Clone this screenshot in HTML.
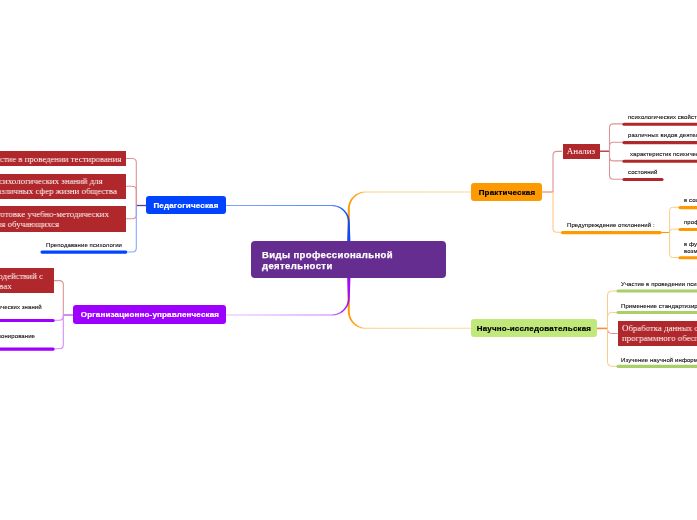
<!DOCTYPE html>
<html><head><meta charset="utf-8"><style>
html,body{margin:0;padding:0;background:#fff;width:697px;height:520px;overflow:hidden;position:relative}
svg{position:absolute;left:0;top:0}
div{-webkit-font-smoothing:antialiased;will-change:transform}
</style></head><body>
<svg width="697" height="520" viewBox="0 0 697 520">
<defs>
<linearGradient id="gb" x1="226" y1="0" x2="350.5" y2="0" gradientUnits="userSpaceOnUse"><stop offset="0" stop-color="#7ea4ff"/><stop offset="0.84" stop-color="#5c8cff"/><stop offset="1" stop-color="#0044ff"/></linearGradient>
<linearGradient id="gp" x1="226" y1="0" x2="350.5" y2="0" gradientUnits="userSpaceOnUse"><stop offset="0" stop-color="#e6c0ff"/><stop offset="0.84" stop-color="#c978ff"/><stop offset="1" stop-color="#9d00ff"/></linearGradient>
<linearGradient id="go" x1="347" y1="0" x2="471" y2="0" gradientUnits="userSpaceOnUse"><stop offset="0" stop-color="#ff9900"/><stop offset="0.08" stop-color="#ffa320"/><stop offset="0.15" stop-color="#ffcc88"/><stop offset="1" stop-color="#ffd6a0"/></linearGradient>
</defs>

<path d="M471.00,191.45 L365.80,191.45 L364.08,191.51 L362.37,191.73 L360.68,192.12 L359.04,192.68 L357.46,193.40 L355.96,194.27 L354.54,195.28 L353.23,196.43 L352.04,197.71 L350.97,199.09 L350.05,200.58 L349.27,202.15 L348.66,203.80 L348.20,205.50 L347.91,207.24 L347.80,208.99 L347.75,214.42 L347.70,219.83 L347.65,225.25 L347.60,230.67 L347.55,236.08 L347.50,241.50 L350.10,241.50 L350.05,236.08 L350.00,230.67 L349.95,225.25 L349.90,219.83 L349.85,214.42 L349.80,209.01 L349.85,207.43 L350.05,205.87 L350.41,204.33 L350.91,202.83 L351.57,201.39 L352.36,200.02 L353.28,198.72 L354.33,197.53 L355.49,196.44 L356.75,195.46 L358.11,194.62 L359.55,193.91 L361.05,193.34 L362.60,192.92 L364.19,192.66 L365.80,192.55 L471.00,192.55Z" fill="url(#go)"/>
<path d="M471.00,327.75 L365.80,327.75 L364.19,327.64 L362.60,327.38 L361.05,326.96 L359.55,326.39 L358.11,325.68 L356.75,324.84 L355.49,323.86 L354.33,322.77 L353.28,321.58 L352.36,320.28 L351.57,318.91 L350.91,317.47 L350.41,315.97 L350.05,314.43 L349.85,312.87 L349.80,311.29 L349.85,305.75 L349.90,300.20 L349.95,294.65 L350.00,289.10 L350.05,283.55 L350.10,278.00 L347.50,278.00 L347.55,283.55 L347.60,289.10 L347.65,294.65 L347.70,300.20 L347.75,305.75 L347.80,311.31 L347.91,313.06 L348.20,314.80 L348.66,316.50 L349.27,318.15 L350.05,319.72 L350.97,321.21 L352.04,322.59 L353.23,323.87 L354.54,325.02 L355.96,326.03 L357.46,326.90 L359.04,327.62 L360.68,328.18 L362.37,328.57 L364.08,328.79 L365.80,328.85 L471.00,328.85Z" fill="url(#go)"/>
<path d="M226.00,206.05 L331.80,206.05 L333.41,206.15 L335.00,206.41 L336.56,206.82 L338.06,207.38 L339.50,208.09 L340.87,208.93 L342.14,209.90 L343.31,210.99 L344.36,212.19 L345.30,213.48 L346.10,214.86 L346.76,216.31 L347.27,217.81 L347.63,219.35 L347.84,220.92 L347.90,222.52 L347.78,225.67 L347.67,228.83 L347.55,232.00 L347.43,235.17 L347.32,238.33 L347.20,241.50 L350.40,241.50 L350.28,238.33 L350.17,235.17 L350.05,232.00 L349.93,228.83 L349.82,225.67 L349.70,222.48 L349.59,220.75 L349.31,219.02 L348.87,217.32 L348.26,215.68 L347.49,214.11 L346.57,212.63 L345.52,211.24 L344.33,209.97 L343.03,208.82 L341.62,207.80 L340.12,206.93 L338.55,206.21 L336.91,205.64 L335.23,205.24 L333.52,205.01 L331.80,204.95 L226.00,204.95Z" fill="url(#gb)"/>
<path d="M226.00,315.55 L331.80,315.55 L333.52,315.49 L335.23,315.26 L336.91,314.86 L338.55,314.29 L340.12,313.57 L341.62,312.70 L343.03,311.68 L344.33,310.53 L345.52,309.26 L346.57,307.87 L347.49,306.39 L348.26,304.82 L348.87,303.18 L349.31,301.48 L349.59,299.75 L349.70,298.01 L349.82,294.67 L349.93,291.33 L350.05,288.00 L350.17,284.67 L350.28,281.33 L350.40,278.00 L347.20,278.00 L347.32,281.33 L347.43,284.67 L347.55,288.00 L347.67,291.33 L347.78,294.67 L347.90,297.99 L347.84,299.58 L347.63,301.15 L347.27,302.69 L346.76,304.19 L346.10,305.64 L345.30,307.02 L344.36,308.31 L343.31,309.51 L342.14,310.60 L340.87,311.57 L339.50,312.41 L338.06,313.12 L336.56,313.68 L335.00,314.09 L333.41,314.35 L331.80,314.45 L226.00,314.45Z" fill="url(#gp)"/>
<path d="M136,205.5 H146" fill="none" stroke="#5a3a9a" stroke-width="1.3"/>
<path d="M126,158.5 H132.3 Q136.3,158.5 136.3,162.5 V205.5" fill="none" stroke="#dc9396" stroke-width="1.1"/>
<path d="M126,186.3 H132.3 Q136.3,186.3 136.3,190.3 V205.5" fill="none" stroke="#dc9396" stroke-width="1.1"/>
<path d="M126,218.8 H132.3 Q136.3,218.8 136.3,214.8 V205.5" fill="none" stroke="#dc9396" stroke-width="1.1"/>
<path d="M127.5,252 H132.3 Q136.3,252 136.3,248 V205.5" fill="none" stroke="#86a8ff" stroke-width="1.1"/>
<line x1="42" y1="252.10000000000002" x2="125.8" y2="252.10000000000002" stroke="#0044ff" stroke-width="3.1" stroke-linecap="round"/>
<path d="M63.5,315 H73" fill="none" stroke="#b560e8" stroke-width="1.4"/>
<path d="M53.7,280.6 H59.3 Q63.3,280.6 63.3,284.6 V315" fill="none" stroke="#dc9396" stroke-width="1.1"/>
<path d="M55,320.2 H59.3 Q63.3,320.2 63.3,316.2 V315" fill="none" stroke="#d28cff" stroke-width="1.1"/>
<path d="M55,348.8 H59.3 Q63.3,348.8 63.3,344.8 V315" fill="none" stroke="#d28cff" stroke-width="1.1"/>
<line x1="-5" y1="320.5" x2="53.2" y2="320.5" stroke="#9d00ff" stroke-width="3.1" stroke-linecap="round"/>
<line x1="-5" y1="349.1" x2="53.2" y2="349.1" stroke="#9d00ff" stroke-width="3.1" stroke-linecap="round"/>
<path d="M542,192 H553" fill="none" stroke="#f0a070" stroke-width="1.4"/>
<path d="M562,151.4 H557 Q553,151.4 553,155.4 V192" fill="none" stroke="#dc9396" stroke-width="1.1"/>
<path d="M561.5,232.3 H557 Q553,232.3 553,228.3 V192" fill="none" stroke="#ffca85" stroke-width="1.1"/>
<path d="M599,151.2 H609.5" fill="none" stroke="#b0282b" stroke-width="1.3"/>
<path d="M623,123.9 H613.5 Q609.5,123.9 609.5,127.9 V151.2" fill="none" stroke="#dc9396" stroke-width="1.1"/>
<path d="M623,142.3 H613.5 Q609.5,142.3 609.5,146.3 V151.2" fill="none" stroke="#dc9396" stroke-width="1.1"/>
<path d="M623,160.9 H613.5 Q609.5,160.9 609.5,156.9 V151.2" fill="none" stroke="#dc9396" stroke-width="1.1"/>
<path d="M623,179.2 H613.5 Q609.5,179.2 609.5,175.2 V151.2" fill="none" stroke="#dc9396" stroke-width="1.1"/>
<line x1="624" y1="124.2" x2="720" y2="124.2" stroke="#b0282b" stroke-width="3.1" stroke-linecap="round"/>
<line x1="624" y1="142.60000000000002" x2="720" y2="142.60000000000002" stroke="#b0282b" stroke-width="3.1" stroke-linecap="round"/>
<line x1="624" y1="161.20000000000002" x2="720" y2="161.20000000000002" stroke="#b0282b" stroke-width="3.1" stroke-linecap="round"/>
<line x1="624" y1="179.5" x2="662" y2="179.5" stroke="#b0282b" stroke-width="3.1" stroke-linecap="round"/>
<line x1="562.5" y1="232.60000000000002" x2="660" y2="232.60000000000002" stroke="#ff9900" stroke-width="3.1" stroke-linecap="round"/>
<path d="M660,232.5 H669.6" fill="none" stroke="#ff9900" stroke-width="1.1"/>
<path d="M679,207.3 H672.6 Q669.6,207.3 669.6,210.3 V232.5" fill="none" stroke="#ffca85" stroke-width="1"/>
<path d="M679,229.2 H672.6 Q669.6,229.2 669.6,232.2 V232.5" fill="none" stroke="#ffca85" stroke-width="1"/>
<path d="M679,257.5 H672.6 Q669.6,257.5 669.6,254.5 V232.5" fill="none" stroke="#ffca85" stroke-width="1"/>
<line x1="680" y1="207.60000000000002" x2="720" y2="207.60000000000002" stroke="#ff9900" stroke-width="3.1" stroke-linecap="round"/>
<line x1="680" y1="229.5" x2="720" y2="229.5" stroke="#ff9900" stroke-width="3.1" stroke-linecap="round"/>
<line x1="680" y1="257.8" x2="720" y2="257.8" stroke="#ff9900" stroke-width="3.1" stroke-linecap="round"/>
<path d="M597,328.4 H607.5" fill="none" stroke="#f39040" stroke-width="1.6"/>
<path d="M617,291 H611.5 Q607.5,291 607.5,295 V328.4" fill="none" stroke="#ffca85" stroke-width="1"/>
<path d="M617,312.4 H611.5 Q607.5,312.4 607.5,316.4 V328.4" fill="none" stroke="#ffca85" stroke-width="1"/>
<path d="M617.6,333.5 H611.5 Q607.5,333.5 607.5,329.5 V328.4" fill="none" stroke="#dc9396" stroke-width="1"/>
<path d="M617,366.3 H611.5 Q607.5,366.3 607.5,362.3 V328.4" fill="none" stroke="#ffca85" stroke-width="1"/>
<line x1="618" y1="291.05" x2="720" y2="291.05" stroke="#a8cf68" stroke-width="3.1" stroke-linecap="round"/>
<line x1="618" y1="312.45" x2="720" y2="312.45" stroke="#a8cf68" stroke-width="3.1" stroke-linecap="round"/>
<line x1="618" y1="366.35" x2="720" y2="366.35" stroke="#a8cf68" stroke-width="3.1" stroke-linecap="round"/>
</svg>
<div style="position:absolute;left:251px;top:241px;width:195px;height:37.30000000000001px;background:#662d91;border-radius:4px"></div>
<div style="position:absolute;left:261.5px;top:250.26px;font:bold 9.5px/9.5px 'Liberation Sans', sans-serif;color:#fff;letter-spacing:0.4px;white-space:nowrap;-webkit-text-stroke:0.25px #fff">Виды профессиональной</div>
<div style="position:absolute;left:261.5px;top:260.56px;font:bold 9.5px/9.5px 'Liberation Sans', sans-serif;color:#fff;letter-spacing:0.4px;white-space:nowrap;-webkit-text-stroke:0.25px #fff">деятельности</div>
<div style="position:absolute;left:146px;top:196px;width:80px;height:18px;background:#0044ff;border-radius:3px"></div>
<div style="position:absolute;left:-114px;width:600px;text-align:center;top:202.13px;font:bold 8px/8px 'Liberation Sans', sans-serif;color:#fff;letter-spacing:0.18px;white-space:nowrap;-webkit-text-stroke:0.2px #fff">Педагогическая</div>
<div style="position:absolute;left:-20px;top:151.2px;width:146px;height:15.400000000000006px;background:#b0282b;border-radius:0px"></div>
<div style="position:absolute;right:576px;top:154.71px;font:normal 9.0px/9.0px 'Liberation Serif', serif;color:#fff;letter-spacing:0px;white-space:nowrap;;transform:scaleX(0.9778);transform-origin:right center">Участие в проведении тестирования</div>
<div style="position:absolute;left:-20px;top:174px;width:146px;height:24.599999999999994px;background:#b0282b;border-radius:0px"></div>
<div style="position:absolute;right:594.8px;top:177.31px;font:normal 9.0px/9.0px 'Liberation Serif', serif;color:#fff;letter-spacing:0px;white-space:nowrap;;transform:scaleX(0.9778);transform-origin:right center">психологических знаний для</div>
<div style="position:absolute;right:580px;top:187.21px;font:normal 9.0px/9.0px 'Liberation Serif', serif;color:#fff;letter-spacing:0px;white-space:nowrap;;transform:scaleX(0.9778);transform-origin:right center">различных сфер жизни общества</div>
<div style="position:absolute;left:-20px;top:206px;width:146px;height:25.599999999999994px;background:#b0282b;border-radius:0px"></div>
<div style="position:absolute;right:587.8px;top:210.01px;font:normal 9.0px/9.0px 'Liberation Serif', serif;color:#fff;letter-spacing:0px;white-space:nowrap;;transform:scaleX(0.9778);transform-origin:right center">подготовке учебно-методических</div>
<div style="position:absolute;right:638.2px;top:220.01px;font:normal 9.0px/9.0px 'Liberation Serif', serif;color:#fff;letter-spacing:0px;white-space:nowrap;;transform:scaleX(0.9778);transform-origin:right center">для обучающихся</div>
<div style="position:absolute;left:45.8px;top:242.12px;font:normal 6px/6px 'Liberation Sans', sans-serif;color:#111;letter-spacing:0.09px;white-space:nowrap;-webkit-text-stroke:0.12px #111">Преподавание психологии</div>
<div style="position:absolute;left:73px;top:305.3px;width:153px;height:18.5px;background:#9d00ff;border-radius:3px"></div>
<div style="position:absolute;left:-150.5px;width:600px;text-align:center;top:311.43px;font:bold 8px/8px 'Liberation Sans', sans-serif;color:#fff;letter-spacing:0.18px;white-space:nowrap;-webkit-text-stroke:0.2px #fff">Организационно-управленческая</div>
<div style="position:absolute;left:-20px;top:268.3px;width:73.7px;height:25.099999999999966px;background:#b0282b;border-radius:0px"></div>
<div style="position:absolute;right:654px;top:271.51px;font:normal 9.0px/9.0px 'Liberation Serif', serif;color:#fff;letter-spacing:0px;white-space:nowrap;;transform:scaleX(0.9778);transform-origin:right center">взаимодействий с</div>
<div style="position:absolute;right:685.8px;top:281.81px;font:normal 9.0px/9.0px 'Liberation Serif', serif;color:#fff;letter-spacing:0px;white-space:nowrap;;transform:scaleX(0.9778);transform-origin:right center">вах</div>
<div style="position:absolute;right:655px;top:303.62px;font:normal 6px/6px 'Liberation Sans', sans-serif;color:#111;letter-spacing:0.09px;white-space:nowrap;-webkit-text-stroke:0.12px #111">психологических знаний</div>
<div style="position:absolute;right:661.7px;top:332.52px;font:normal 6px/6px 'Liberation Sans', sans-serif;color:#111;letter-spacing:0.09px;white-space:nowrap;-webkit-text-stroke:0.12px #111">Позиционирование</div>
<div style="position:absolute;left:471px;top:182.8px;width:71px;height:18.19999999999999px;background:#ff9900;border-radius:3px"></div>
<div style="position:absolute;left:206.5px;width:600px;text-align:center;top:189.03px;font:bold 8px/8px 'Liberation Sans', sans-serif;color:#000;letter-spacing:0.18px;white-space:nowrap;-webkit-text-stroke:0.2px #000">Практическая</div>
<div style="position:absolute;left:562.5px;top:143.6px;width:36.5px;height:15.400000000000006px;background:#b0282b;border-radius:0px"></div>
<div style="position:absolute;left:280.5px;width:600px;text-align:center;top:147.21px;font:normal 9px/9px 'Liberation Serif', serif;color:#fff;letter-spacing:0px;white-space:nowrap;">Анализ</div>
<div style="position:absolute;left:628.3px;top:113.72px;font:normal 6px/6px 'Liberation Sans', sans-serif;color:#111;letter-spacing:0.09px;white-space:nowrap;-webkit-text-stroke:0.12px #111">психологических свойств</div>
<div style="position:absolute;left:628.3px;top:131.72px;font:normal 6px/6px 'Liberation Sans', sans-serif;color:#111;letter-spacing:0.09px;white-space:nowrap;-webkit-text-stroke:0.12px #111">различных видов деятельности</div>
<div style="position:absolute;left:630.4px;top:150.72px;font:normal 6px/6px 'Liberation Sans', sans-serif;color:#111;letter-spacing:0.09px;white-space:nowrap;-webkit-text-stroke:0.12px #111">характеристик психических</div>
<div style="position:absolute;left:628.3px;top:168.72px;font:normal 6px/6px 'Liberation Sans', sans-serif;color:#111;letter-spacing:0.09px;white-space:nowrap;-webkit-text-stroke:0.12px #111">состояний</div>
<div style="position:absolute;left:566.8px;top:221.92px;font:normal 6px/6px 'Liberation Sans', sans-serif;color:#111;letter-spacing:0.09px;white-space:nowrap;-webkit-text-stroke:0.12px #111">Предупреждение отклонений :</div>
<div style="position:absolute;left:684px;top:196.72px;font:normal 6px/6px 'Liberation Sans', sans-serif;color:#111;letter-spacing:0.09px;white-space:nowrap;-webkit-text-stroke:0.12px #111">в социальной</div>
<div style="position:absolute;left:684px;top:218.92px;font:normal 6px/6px 'Liberation Sans', sans-serif;color:#111;letter-spacing:0.09px;white-space:nowrap;-webkit-text-stroke:0.12px #111">профессиональной</div>
<div style="position:absolute;left:684px;top:240.52px;font:normal 6px/6px 'Liberation Sans', sans-serif;color:#111;letter-spacing:0.09px;white-space:nowrap;-webkit-text-stroke:0.12px #111">в функциональных</div>
<div style="position:absolute;left:684px;top:247.52px;font:normal 6px/6px 'Liberation Sans', sans-serif;color:#111;letter-spacing:0.09px;white-space:nowrap;-webkit-text-stroke:0.12px #111">возможностях</div>
<div style="position:absolute;left:471px;top:319.2px;width:126px;height:18.400000000000034px;background:#c1e87a;border-radius:3px"></div>
<div style="position:absolute;left:234px;width:600px;text-align:center;top:325.03px;font:bold 8px/8px 'Liberation Sans', sans-serif;color:#000;letter-spacing:0.18px;white-space:nowrap;-webkit-text-stroke:0.2px #000">Научно-исследовательская</div>
<div style="position:absolute;left:621px;top:281.22px;font:normal 6px/6px 'Liberation Sans', sans-serif;color:#111;letter-spacing:0.09px;white-space:nowrap;-webkit-text-stroke:0.12px #111">Участие в проведении психологических</div>
<div style="position:absolute;left:621px;top:303.32px;font:normal 6px/6px 'Liberation Sans', sans-serif;color:#111;letter-spacing:0.09px;white-space:nowrap;-webkit-text-stroke:0.12px #111">Применение стандартизированных</div>
<div style="position:absolute;left:621px;top:356.52px;font:normal 6px/6px 'Liberation Sans', sans-serif;color:#111;letter-spacing:0.09px;white-space:nowrap;-webkit-text-stroke:0.12px #111">Изучение научной информации</div>
<div style="position:absolute;left:617.6px;top:320.9px;width:102.39999999999998px;height:24.700000000000045px;background:#b0282b;border-radius:0px"></div>
<div style="position:absolute;left:622.2px;top:324.41px;font:normal 9.0px/9.0px 'Liberation Serif', serif;color:#fff;letter-spacing:0px;white-space:nowrap;;transform:scaleX(0.9778);transform-origin:left center">Обработка данных с помощью</div>
<div style="position:absolute;left:622.2px;top:334.11px;font:normal 9.0px/9.0px 'Liberation Serif', serif;color:#fff;letter-spacing:0px;white-space:nowrap;;transform:scaleX(0.9778);transform-origin:left center">программного обеспечения</div>
</body></html>
